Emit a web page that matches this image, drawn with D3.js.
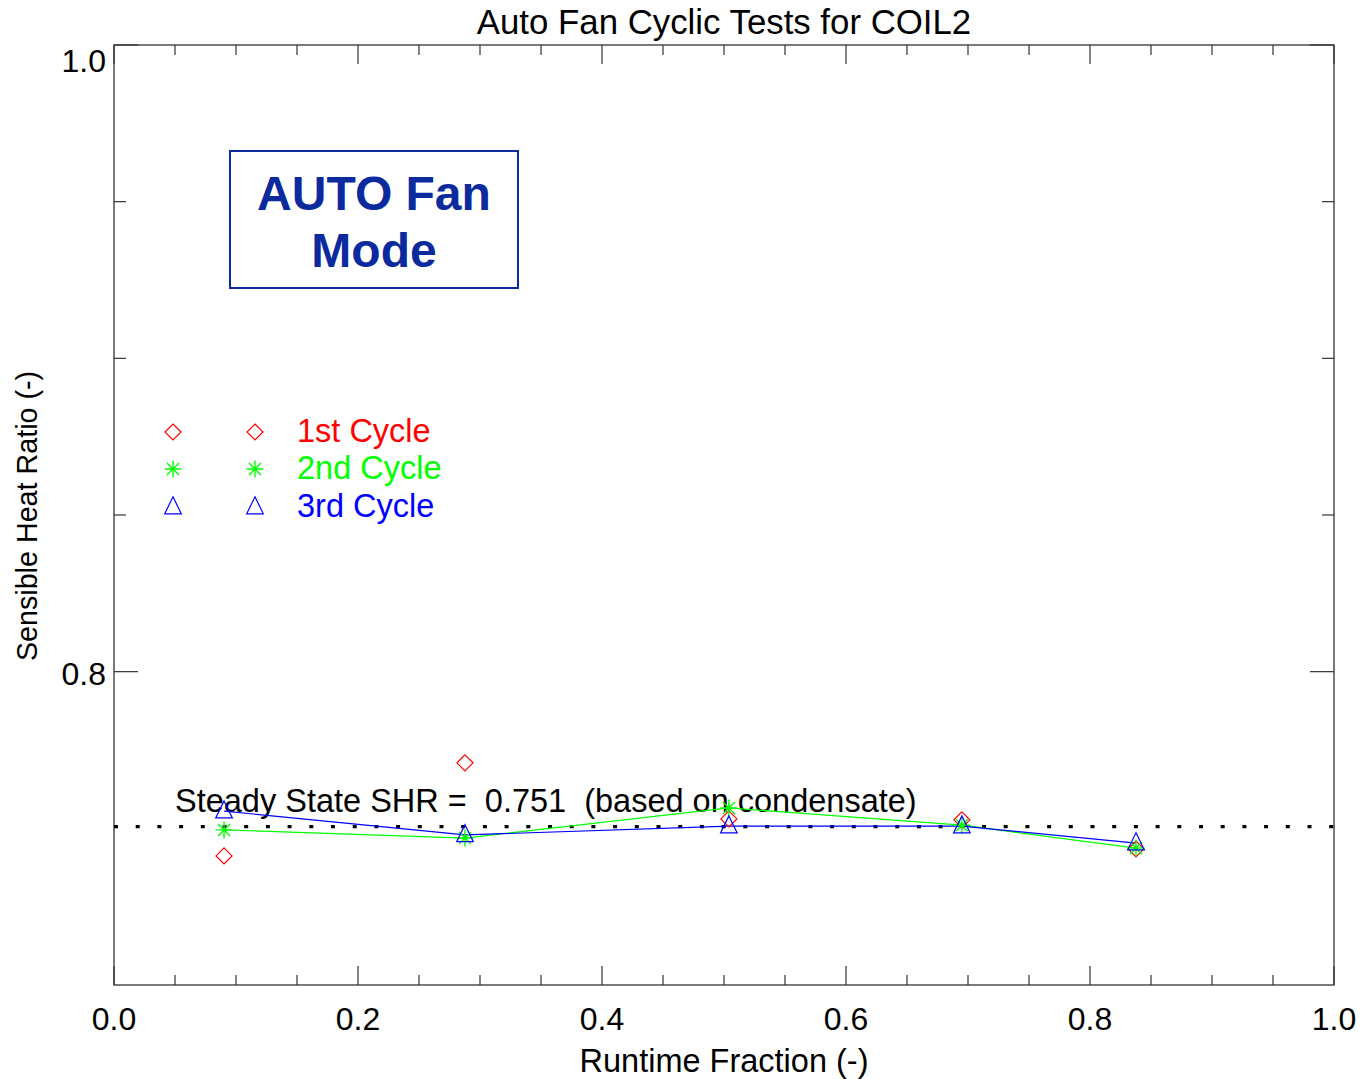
<!DOCTYPE html>
<html><head><meta charset="utf-8">
<script src="https://cdn.jsdelivr.net/npm/d3@7"></script>
<style>
body{margin:0;background:#fff;}
text{font-family:"Liberation Sans",Arial,sans-serif;}
</style></head>
<body><svg id="chart" width="1371" height="1079"></svg>
<script>
// ---- data ----
const runtime = [0.0902, 0.2877, 0.504, 0.695, 0.8377];
const cycle1 = [0.7412, 0.7709, 0.7530, 0.7527, 0.7434];
const cycle2 = [0.7495, 0.7469, 0.7565, 0.7510, 0.7437];
const cycle3 = [0.7555, 0.7479, 0.7507, 0.7507, 0.7453];
const seriesNames = ["1st Cycle", "2nd Cycle", "3rd Cycle"];
const seriesColors = ["#ff0000", "#00ff00", "#0000ff"];
const steadySHR = 0.751;
const xTickLabels = ["0.0","0.2","0.4","0.6","0.8","1.0"];
const xTicks = [0, 0.2, 0.4, 0.6, 0.8, 1.0];
const yTicks = [0.8, 1.0];
const yTickLabels = ["0.8","1.0"];

const svg = d3.select("#chart");
const L=114, R=1334, T=45, B=985;
const x = d3.scaleLinear().domain([0,1]).range([L,R]);
const y = d3.scaleLinear().domain([0.7,1.0]).range([B,T]);

const axisColor = "#333";
// frame
svg.append("rect").attr("x",L).attr("y",T).attr("width",R-L).attr("height",B-T)
  .attr("fill","none").attr("stroke",axisColor).attr("stroke-width",1.3);

// x ticks (major 0.2, minor 0.05)
const xMinor = d3.range(0,1.0001,0.05);
xMinor.forEach(v=>{
  const major = Math.abs(v*5-Math.round(v*5))<1e-6;
  const len = major?19:10;
  svg.append("line").attr("x1",x(v)).attr("x2",x(v)).attr("y1",B).attr("y2",B-len).attr("stroke",axisColor).attr("stroke-width",1.2);
  svg.append("line").attr("x1",x(v)).attr("x2",x(v)).attr("y1",T).attr("y2",T+len).attr("stroke",axisColor).attr("stroke-width",1.2);
});
// y ticks (major 0.2, minor 0.05)
const yMinor = d3.range(0.80,1.0001,0.05);
yMinor.forEach(v=>{
  const major = Math.abs(v*5-Math.round(v*5))<1e-6;
  const len = major?24:12;
  svg.append("line").attr("x1",L).attr("x2",L+len).attr("y1",y(v)).attr("y2",y(v)).attr("stroke",axisColor).attr("stroke-width",1.2);
  svg.append("line").attr("x1",R).attr("x2",R-len).attr("y1",y(v)).attr("y2",y(v)).attr("stroke",axisColor).attr("stroke-width",1.2);
});

// tick labels
svg.selectAll(".xl").data(xTicks).enter().append("text")
  .attr("x",d=>x(d)).attr("y",B+45).attr("text-anchor","middle")
  .attr("font-size",32).attr("fill","#000").text((d,i)=>xTickLabels[i]);
svg.selectAll(".yl").data(yTicks).enter().append("text")
  .attr("x",L-8).attr("y",d=>y(d)+(d===1.0?27:13)).attr("text-anchor","end")
  .attr("font-size",32).attr("fill","#000").text((d,i)=>yTickLabels[i]);

// titles
svg.append("text").attr("x",(L+R)/2).attr("y",34).attr("text-anchor","middle")
  .attr("font-size",34.8).attr("fill","#000").text("Auto Fan Cyclic Tests for COIL2");
svg.append("text").attr("x",(L+R)/2).attr("y",1072).attr("text-anchor","middle")
  .attr("font-size",32.5).attr("fill","#000").text("Runtime Fraction (-)");
svg.append("text").attr("transform","translate(37,516) rotate(-90)").attr("text-anchor","middle")
  .attr("font-size",28.7).attr("fill","#000").text("Sensible Heat Ratio (-)");

// steady state dotted line
svg.append("line").attr("x1",L).attr("x2",R).attr("y1",y(steadySHR)+1.5).attr("y2",y(steadySHR)+1.5)
  .attr("stroke","#000").attr("stroke-width",3.2).attr("stroke-dasharray","4,17.7");
svg.append("text").attr("x",175).attr("y",y(steadySHR)-13).attr("font-size",32.5)
  .attr("fill","#000").style("white-space","pre")
  .text("Steady State SHR =  " + steadySHR.toFixed(3) + "  (based on condensate)");

// markers
function drawMarker(g, type, cx, cy, color){
  if(type===0){
    const s=8;
    g.append("path").attr("d",`M${cx},${cy-s}L${cx+s},${cy}L${cx},${cy+s}L${cx-s},${cy}Z`)
      .attr("fill","none").attr("stroke",color).attr("stroke-width",1.2);
  } else if(type===1){
    const s=8.5;
    let d="";
    [0,45,90,135].forEach(a=>{const r=a*Math.PI/180;d+=`M${cx-s*Math.cos(r)},${cy-s*Math.sin(r)}L${cx+s*Math.cos(r)},${cy+s*Math.sin(r)}`;});
    g.append("path").attr("d",d).attr("stroke",color).attr("stroke-width",1.4).attr("fill","none");
  } else {
    const w=8.3, h=17;
    g.append("path").attr("d",`M${cx},${cy-h*0.6}L${cx+w},${cy+h*0.4}L${cx-w},${cy+h*0.4}Z`)
      .attr("fill","none").attr("stroke",color).attr("stroke-width",1.2);
  }
}
const allSeries=[cycle1,cycle2,cycle3];
const line = d3.line().x(d=>x(d[0])).y(d=>y(d[1]));
// lines for cycles 2 and 3
[1,2].forEach(k=>{
  svg.append("path").datum(runtime.map((r,i)=>[r,allSeries[k][i]])).attr("d",line)
    .attr("fill","none").attr("stroke",seriesColors[k]).attr("stroke-width",1.2);
});
allSeries.forEach((s,k)=>{
  const g=svg.append("g");
  s.forEach((v,i)=>drawMarker(g,k,x(runtime[i]),y(v),seriesColors[k]));
});

// legend
const legY=[432,469,507];
seriesNames.forEach((n,k)=>{
  const g=svg.append("g");
  drawMarker(g,k,173,legY[k],seriesColors[k]);
  drawMarker(g,k,255,legY[k],seriesColors[k]);
  svg.append("text").attr("x",297).attr("y",legY[k]+10).attr("font-size",32.5)
    .attr("fill",seriesColors[k]).text(n);
});

// AUTO Fan Mode box
svg.append("rect").attr("x",230).attr("y",151).attr("width",288).attr("height",137)
  .attr("fill","none").attr("stroke","#0a2a9e").attr("stroke-width",2);
svg.append("text").attr("x",374).attr("y",210).attr("text-anchor","middle").attr("font-size",48)
  .attr("font-weight","bold").attr("fill","#0a2a9e").text("AUTO Fan");
svg.append("text").attr("x",374).attr("y",267).attr("text-anchor","middle").attr("font-size",48)
  .attr("font-weight","bold").attr("fill","#0a2a9e").text("Mode");
</script></body></html>
